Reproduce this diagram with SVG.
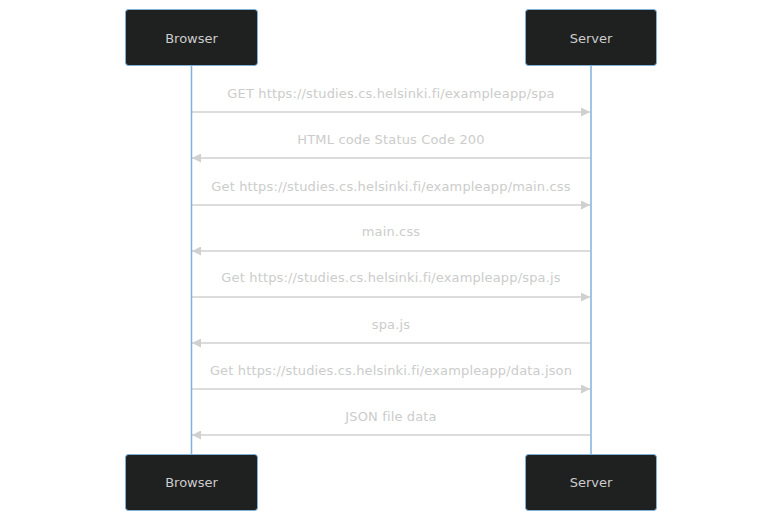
<svg xmlns="http://www.w3.org/2000/svg" width="783" height="521" viewBox="0 0 783 521">
<defs>
<style>
.actor rect{fill:#1f2020;stroke:#81b1db;stroke-width:1}
.actor text{fill:#ccc;font-family:"DejaVu Sans",sans-serif;font-size:13px;text-anchor:middle;dominant-baseline:central}
.life{stroke:#81b1db;stroke-width:1.5}
.msg line{stroke:#d0d0d0;stroke-width:1.5}
.msg text{fill:#ccc;font-family:"DejaVu Sans",sans-serif;font-size:13px;letter-spacing:0.15px;text-anchor:middle;dominant-baseline:central}
</style>
<marker id="ah" viewBox="0 0 10 10" refX="10" refY="5" markerWidth="10" markerHeight="9" markerUnits="userSpaceOnUse" orient="auto">
<path d="M0,0 L10,5 L0,10 z" fill="#d0d0d0"/>
</marker>
</defs>
<rect width="783" height="521" fill="#fff"/>
<g id="connectors">
<g class="msg">
<text x="391" y="93">GET https://studies.cs.helsinki.fi/exampleapp/spa</text>
<line x1="192" y1="112" x2="590" y2="112" marker-end="url(#ah)"/>
<text x="391" y="139">HTML code Status Code 200</text>
<line x1="590" y1="158" x2="192" y2="158" marker-end="url(#ah)"/>
<text x="391" y="186">Get https://studies.cs.helsinki.fi/exampleapp/main.css</text>
<line x1="192" y1="205" x2="590" y2="205" marker-end="url(#ah)"/>
<text x="391" y="231">main.css</text>
<line x1="590" y1="251" x2="192" y2="251" marker-end="url(#ah)"/>
<text x="391" y="277">Get https://studies.cs.helsinki.fi/exampleapp/spa.js</text>
<line x1="192" y1="297" x2="590" y2="297" marker-end="url(#ah)"/>
<text x="391" y="324">spa.js</text>
<line x1="590" y1="343" x2="192" y2="343" marker-end="url(#ah)"/>
<text x="391" y="370">Get https://studies.cs.helsinki.fi/exampleapp/data.json</text>
<line x1="192" y1="389" x2="590" y2="389" marker-end="url(#ah)"/>
<text x="391" y="416">JSON file data</text>
<line x1="590" y1="435" x2="192" y2="435" marker-end="url(#ah)"/>
</g>
<line class="life" x1="191.5" y1="66" x2="191.5" y2="454"/>
<line class="life" x1="591" y1="66" x2="591" y2="454"/>
</g>
<g id="browser-top" class="actor"><rect x="125.5" y="9.5" width="132" height="56" rx="3"/><text x="191.5" y="38">Browser</text></g>
<g id="server-top" class="actor"><rect x="525.5" y="9.5" width="131" height="56" rx="3"/><text x="591" y="38">Server</text></g>
<g id="browser-bottom" class="actor"><rect x="125.5" y="454.5" width="132" height="56" rx="3"/><text x="191.5" y="482">Browser</text></g>
<g id="server-bottom" class="actor"><rect x="525.5" y="454.5" width="131" height="56" rx="3"/><text x="591" y="482">Server</text></g>
</svg>
